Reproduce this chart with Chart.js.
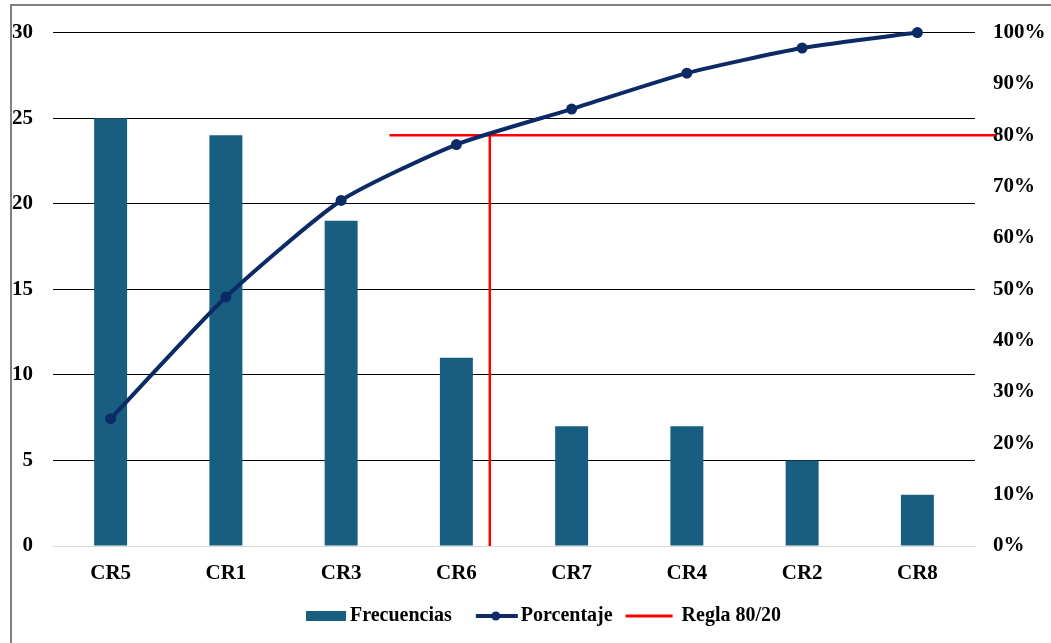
<!DOCTYPE html>
<html>
<head>
<meta charset="utf-8">
<script src="https://cdn.jsdelivr.net/npm/chart.js@4.4.1/dist/chart.umd.min.js"></script>
<style>
html,body{margin:0;padding:0;background:#fff;overflow:hidden}
#wrap{position:relative;width:1051px;height:643px}
#frame{position:absolute;left:10px;top:4px;width:1100px;height:700px;border:2px solid #808080;pointer-events:none}
canvas{position:absolute;left:0;top:0}
</style>
</head>
<body>
<div id="wrap"><canvas id="c" width="1051" height="643"></canvas><div id="frame"></div></div>
<script>
// data
const categories = ['CR5','CR1','CR3','CR6','CR7','CR4','CR2','CR8'];
const frecuencias = [25,24,19,11,7,7,5,3];
const porcentaje = [24.8,48.5,67.3,78.2,85.1,92.1,97.0,100];
// regla 80/20 on a hidden linear x axis (category index units)
const reglaX = [2.42,7.68,null,3.29,3.29];
const reglaY = [80,80,null,80,0];

const BAR='#175e80', NAVY='#0b2a66', RED='#ff0000';
const FONT='"Liberation Serif","Times New Roman",serif';

function icon(draw){
  const c=document.createElement('canvas');c.width=70;c.height=12;
  draw(c.getContext('2d'));return c;
}
const icons=[
  icon(g=>{g.fillStyle=BAR;g.fillRect(24,1,40,10);}),
  icon(g=>{g.strokeStyle=NAVY;g.lineWidth=4;g.beginPath();g.moveTo(23,6);g.lineTo(65,6);g.stroke();
           g.fillStyle=NAVY;g.beginPath();g.arc(43,6,4.5,0,Math.PI*2);g.fill();}),
  icon(g=>{g.strokeStyle=RED;g.lineWidth=3;g.beginPath();g.moveTo(12,6);g.lineTo(59,6);g.stroke();})
];

const shiftLegend={id:'shiftLegend',afterLayout(chart){
  const l=chart.legend; if(!l) return; l.left+=12; l.right+=12;
}};

new Chart('c',{
  data:{
    labels:categories,
    datasets:[
      {type:'line',label:'Porcentaje',data:porcentaje,yAxisID:'y1',xAxisID:'x',
       borderColor:NAVY,backgroundColor:NAVY,borderWidth:4,pointRadius:5.5,pointHoverRadius:5.5,
       pointBackgroundColor:NAVY,pointBorderWidth:0,tension:0.2,order:0,clip:false},
      {type:'line',label:'Regla 80/20',data:reglaX.map((x,i)=>({x:x,y:reglaY[i]})),
       yAxisID:'y1',xAxisID:'x2',borderColor:RED,borderWidth:2.5,pointRadius:0,
       spanGaps:false,tension:0,order:1,clip:false},
      {type:'bar',label:'Frecuencias',data:frecuencias,yAxisID:'y',xAxisID:'x',grouped:false,
       backgroundColor:BAR,categoryPercentage:1,barPercentage:0.286,order:2}
    ]
  },
  options:{
    responsive:false,animation:false,
    layout:{padding:{left:0,right:0,top:32,bottom:7}},
    plugins:{
      tooltip:{enabled:false},
      legend:{position:'bottom',
        labels:{usePointStyle:true,pointStyleWidth:46,padding:13,color:'#000',
          font:{family:FONT,size:20,weight:'bold'},
          generateLabels:(chart)=>{
            const order=['Frecuencias','Porcentaje','Regla 80/20'];
            return order.map((name,i)=>{
              const di=chart.data.datasets.findIndex(d=>d.label===name);
              return {text:name,datasetIndex:di,pointStyle:icons[i],hidden:false,
                fillStyle:'transparent',strokeStyle:'transparent',lineWidth:0,fontColor:'#000'};
            });
          }}}
    },
    scales:{
      x:{type:'category',position:'bottom',offset:true,
        grid:{display:false,drawTicks:false},
        border:{display:true,color:'#d9d9d9',width:1},
        ticks:{color:'#000',padding:15,font:{family:FONT,size:21,weight:'bold'}},
        afterFit:s=>{s.height=47;}},
      x2:{type:'linear',display:false,min:-0.5,max:7.5},
      y:{position:'left',min:0,max:30,
        ticks:{stepSize:5,color:'#000',padding:20,font:{family:FONT,size:21,weight:'bold'}},
        grid:{drawTicks:false,lineWidth:1,color:c=>c.tick&&c.tick.value===0?'#d9d9d9':'#000'},
        border:{display:false},
        afterFit:s=>{s.width=53;}},
      y1:{position:'right',min:0,max:100,
        ticks:{stepSize:10,color:'#000',padding:18,font:{family:FONT,size:21,weight:'bold'},callback:v=>v+'%'},
        grid:{display:false,drawTicks:false},
        border:{display:false},
        afterFit:s=>{s.width=76;}}
    }
  },
  plugins:[shiftLegend]
});
</script>
</body>
</html>
